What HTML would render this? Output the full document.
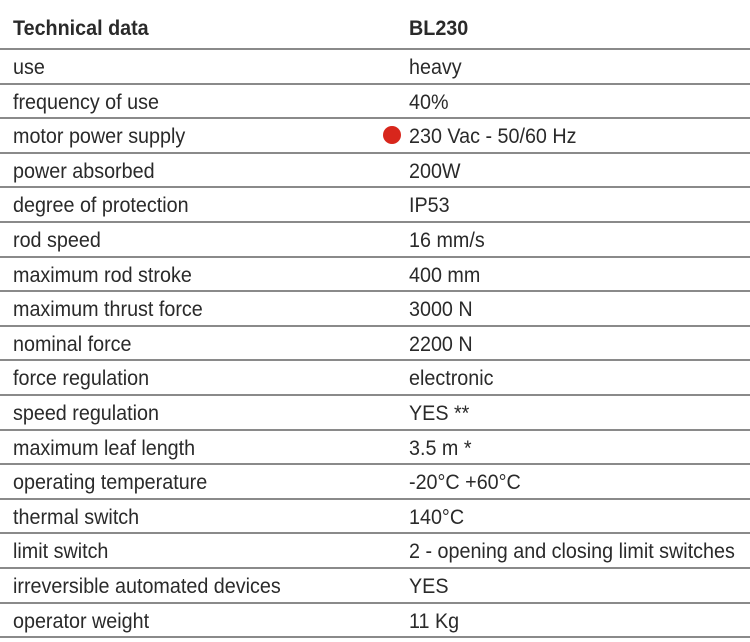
<!DOCTYPE html>
<html><head><meta charset="utf-8"><style>
body{margin:0;width:750px;height:642px;background:#fff;position:relative;overflow:hidden;font-family:"Liberation Sans",Arial,sans-serif;color:#2a2a2a}
.t{position:absolute;font-size:21px;line-height:20px;white-space:nowrap;transform:scaleX(0.94);transform-origin:left center}
.l{position:absolute;left:0;width:750px;height:2px;background:#8a8a8a}
.b{font-weight:bold}
</style></head><body>
<div class="t b" style="left:13px;top:19px">Technical data</div>
<div class="t b" style="left:409px;top:19px">BL230</div>
<div id="c"></div>
<div style="position:absolute;left:383px;top:126px;width:18px;height:18px;border-radius:50%;background:#d8261c"></div>
<script>
var r=[["use","heavy"],["frequency of use","40%"],["motor power supply","230 Vac - 50/60 Hz"],["power absorbed","200W"],["degree of protection","IP53"],["rod speed","16 mm/s"],["maximum rod stroke","400 mm"],["maximum thrust force","3000 N"],["nominal force","2200 N"],["force regulation","electronic"],["speed regulation","YES **"],["maximum leaf length","3.5 m *"],["operating temperature","-20°C +60°C"],["thermal switch","140°C"],["limit switch","2 - opening and closing limit switches"],["irreversible automated devices","YES"],["operator weight","11 Kg"]];
var h="",s=34.6;
for(var i=0;i<=17;i++){h+='<div class="l" style="top:'+(48+s*i).toFixed(1)+'px"></div>';}
for(var i=0;i<17;i++){var y=(48+s*i+10).toFixed(1);h+='<div class="t" style="left:13px;top:'+y+'px">'+r[i][0]+'</div><div class="t" style="left:409px;top:'+y+'px">'+r[i][1]+'</div>';}
document.getElementById("c").innerHTML=h;
</script>
</body></html>
